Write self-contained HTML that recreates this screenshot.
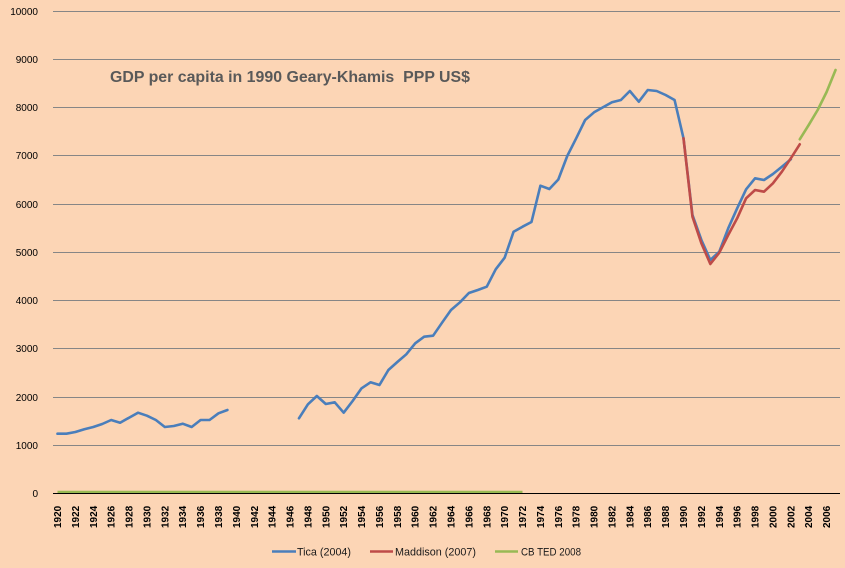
<!DOCTYPE html>
<html><head><meta charset="utf-8"><style>
html,body{margin:0;padding:0;background:#FCD5B5;}
svg{display:block;}
</style></head><body>
<svg width="845" height="568" viewBox="0 0 845 568" xmlns="http://www.w3.org/2000/svg">
<rect x="0" y="0" width="845" height="568" fill="#FCD5B5"/>
<g stroke="#868686" stroke-width="1">
<line x1="53" x2="840" y1="11.5" y2="11.5"/>
<line x1="53" x2="840" y1="59.5" y2="59.5"/>
<line x1="53" x2="840" y1="107.5" y2="107.5"/>
<line x1="53" x2="840" y1="155.5" y2="155.5"/>
<line x1="53" x2="840" y1="204.5" y2="204.5"/>
<line x1="53" x2="840" y1="252.5" y2="252.5"/>
<line x1="53" x2="840" y1="300.5" y2="300.5"/>
<line x1="53" x2="840" y1="348.5" y2="348.5"/>
<line x1="53" x2="840" y1="397.5" y2="397.5"/>
<line x1="53" x2="840" y1="445.5" y2="445.5"/>
</g>
<g font-family="Liberation Sans, sans-serif" font-size="10" fill="#000" text-anchor="end">
<text x="38" y="15">10000</text>
<text x="38" y="63">9000</text>
<text x="38" y="111">8000</text>
<text x="38" y="159">7000</text>
<text x="38" y="208">6000</text>
<text x="38" y="256">5000</text>
<text x="38" y="304">4000</text>
<text x="38" y="352">3000</text>
<text x="38" y="401">2000</text>
<text x="38" y="449">1000</text>
<text x="38" y="497">0</text>
</g>
<text x="110" y="82" font-family="Liberation Sans, sans-serif" font-weight="bold" font-size="16" fill="#595959" textLength="360" lengthAdjust="spacingAndGlyphs">GDP per capita in 1990 Geary-Khamis&#160; PPP US$</text>
<line x1="57.5" x2="522.5" y1="492" y2="492" stroke="#98B954" stroke-width="2.5"/>
<line x1="53" x2="840" y1="493.5" y2="493.5" stroke="#000" stroke-width="1"/>
<g fill="none" stroke-width="2.6" stroke-linejoin="round" stroke-linecap="round">
<polyline stroke="#4A7EBB" points="57.5,433.7 66.44,433.7 75.39,432 84.33,429.3 93.27,427 102.22,424 111.16,420 120.1,422.7 129.04,417.7 137.99,412.7 146.93,415.7 155.87,420 164.82,427 173.76,426 182.7,423.7 191.65,427 200.59,420 209.53,420 218.47,413.3 227.42,410"/>
<polyline stroke="#4A7EBB" points="298.96,418.3 307.91,404.3 316.85,396 325.79,404 334.74,402.3 343.68,412.7 352.62,401 361.56,388.3 370.51,382.3 379.45,385 388.39,370 397.33,362 406.28,354.3 415.22,343.3 424.16,336.7 433.11,335.7 442.05,322.7 450.99,310 459.94,302.3 468.88,293 477.82,290 486.76,286.7 495.71,269.3 504.65,257.7 513.59,231.7 522.54,226.7 531.48,222 540.42,185.7 549.37,189 558.31,179.5 567.25,156 576.19,138.3 585.14,120 594.08,112.3 603.02,107.3 611.97,102.3 620.91,100 629.85,91 638.8,101.7 647.74,90 656.68,91 665.62,95 674.57,100 683.51,138.3 692.45,215 701.4,240 710.34,260 719.28,251.7 728.23,228.3 737.17,208.3 746.11,189.3 755.05,178.3 764,180 772.94,174 781.88,166.7 790.83,159.3"/>
<polyline stroke="#BE4B48" points="683.51,138.3 692.45,216.7 701.4,243.3 710.34,264 719.28,252.7 728.23,235 737.17,218.3 746.11,198.3 755.05,190 764,191.7 772.94,183.3 781.88,171.7 790.83,158.3 799.77,144.3"/>
<polyline stroke="#98B954" points="799.77,139.3 808.71,125 817.66,110 826.6,92 835.54,70"/>
</g>
<g font-family="Liberation Sans, sans-serif" font-weight="bold" font-size="10" fill="#000">
<text transform="translate(57.5,528) rotate(-90)" dy="0.35em">1920</text>
<text transform="translate(75.39,528) rotate(-90)" dy="0.35em">1922</text>
<text transform="translate(93.27,528) rotate(-90)" dy="0.35em">1924</text>
<text transform="translate(111.16,528) rotate(-90)" dy="0.35em">1926</text>
<text transform="translate(129.04,528) rotate(-90)" dy="0.35em">1928</text>
<text transform="translate(146.93,528) rotate(-90)" dy="0.35em">1930</text>
<text transform="translate(164.82,528) rotate(-90)" dy="0.35em">1932</text>
<text transform="translate(182.7,528) rotate(-90)" dy="0.35em">1934</text>
<text transform="translate(200.59,528) rotate(-90)" dy="0.35em">1936</text>
<text transform="translate(218.47,528) rotate(-90)" dy="0.35em">1938</text>
<text transform="translate(236.36,528) rotate(-90)" dy="0.35em">1940</text>
<text transform="translate(254.25,528) rotate(-90)" dy="0.35em">1942</text>
<text transform="translate(272.13,528) rotate(-90)" dy="0.35em">1944</text>
<text transform="translate(290.02,528) rotate(-90)" dy="0.35em">1946</text>
<text transform="translate(307.91,528) rotate(-90)" dy="0.35em">1948</text>
<text transform="translate(325.79,528) rotate(-90)" dy="0.35em">1950</text>
<text transform="translate(343.68,528) rotate(-90)" dy="0.35em">1952</text>
<text transform="translate(361.56,528) rotate(-90)" dy="0.35em">1954</text>
<text transform="translate(379.45,528) rotate(-90)" dy="0.35em">1956</text>
<text transform="translate(397.33,528) rotate(-90)" dy="0.35em">1958</text>
<text transform="translate(415.22,528) rotate(-90)" dy="0.35em">1960</text>
<text transform="translate(433.11,528) rotate(-90)" dy="0.35em">1962</text>
<text transform="translate(450.99,528) rotate(-90)" dy="0.35em">1964</text>
<text transform="translate(468.88,528) rotate(-90)" dy="0.35em">1966</text>
<text transform="translate(486.76,528) rotate(-90)" dy="0.35em">1968</text>
<text transform="translate(504.65,528) rotate(-90)" dy="0.35em">1970</text>
<text transform="translate(522.54,528) rotate(-90)" dy="0.35em">1972</text>
<text transform="translate(540.42,528) rotate(-90)" dy="0.35em">1974</text>
<text transform="translate(558.31,528) rotate(-90)" dy="0.35em">1976</text>
<text transform="translate(576.19,528) rotate(-90)" dy="0.35em">1978</text>
<text transform="translate(594.08,528) rotate(-90)" dy="0.35em">1980</text>
<text transform="translate(611.97,528) rotate(-90)" dy="0.35em">1982</text>
<text transform="translate(629.85,528) rotate(-90)" dy="0.35em">1984</text>
<text transform="translate(647.74,528) rotate(-90)" dy="0.35em">1986</text>
<text transform="translate(665.62,528) rotate(-90)" dy="0.35em">1988</text>
<text transform="translate(683.51,528) rotate(-90)" dy="0.35em">1990</text>
<text transform="translate(701.4,528) rotate(-90)" dy="0.35em">1992</text>
<text transform="translate(719.28,528) rotate(-90)" dy="0.35em">1994</text>
<text transform="translate(737.17,528) rotate(-90)" dy="0.35em">1996</text>
<text transform="translate(755.05,528) rotate(-90)" dy="0.35em">1998</text>
<text transform="translate(772.94,528) rotate(-90)" dy="0.35em">2000</text>
<text transform="translate(790.83,528) rotate(-90)" dy="0.35em">2002</text>
<text transform="translate(808.71,528) rotate(-90)" dy="0.35em">2004</text>
<text transform="translate(826.6,528) rotate(-90)" dy="0.35em">2006</text>
</g>
<g stroke-width="2.5">
<line x1="272" x2="296" y1="551.5" y2="551.5" stroke="#4A7EBB"/>
<line x1="370" x2="393" y1="551.5" y2="551.5" stroke="#BE4B48"/>
<line x1="495" x2="518" y1="551.5" y2="551.5" stroke="#98B954"/>
</g>
<g font-family="Liberation Sans, sans-serif" font-size="11" fill="#1a1a1a">
<text x="297" y="555.5" textLength="54" lengthAdjust="spacingAndGlyphs">Tica (2004)</text>
<text x="395" y="555.5" textLength="81" lengthAdjust="spacingAndGlyphs">Maddison (2007)</text>
<text x="521" y="555.5" textLength="60" lengthAdjust="spacingAndGlyphs">CB TED 2008</text>
</g>
</svg>
</body></html>
